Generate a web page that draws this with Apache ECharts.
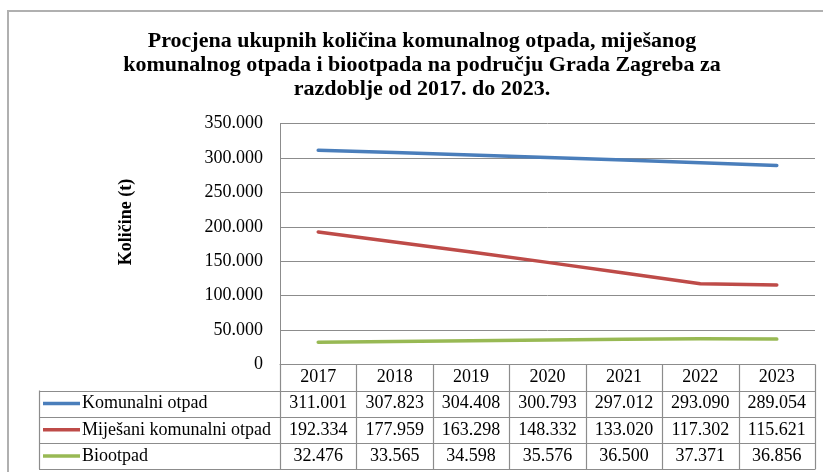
<!DOCTYPE html>
<html>
<head>
<meta charset="utf-8">
<script src="https://cdn.jsdelivr.net/npm/echarts@6/dist/echarts.min.js"></script>
<style>
html,body{margin:0;padding:0;background:#fff;}
#c{width:823px;height:472px;}
</style>
</head>
<body>
<div id="c"></div>
<script>
// ---- data ----
var years = ['2017','2018','2019','2020','2021','2022','2023'];
var seriesNames = ['Komunalni otpad','Miješani komunalni otpad','Biootpad'];
var komunalni = [311001,307823,304408,300793,297012,293090,289054];
var mijesani = [192334,177959,163298,148332,133020,117302,115621];
var biootpad = [32476,33565,34598,35576,36500,37371,36856];
var yMin = 0, yMax = 350000, yStep = 50000;
var titleText = 'Procjena ukupnih količina komunalnog otpada, miješanog\nkomunalnog otpada i biootpada na području Grada Zagreba za\nrazdoblje od 2017. do 2023.';
var yName = 'Količine (t)';

// ---- styles ----
var colors = ['#4a7ebb','#be4b48','#98b954'];
var FONT = '"Liberation Serif","Times New Roman",serif';
var gridColor = '#8c8c8c';
var tableColor = '#8c8c8c';
var FS = 18;

function fmt(v){ return String(v).replace(/\B(?=(\d{3})+(?!\d))/g,'.'); }

var chart = echarts.init(document.getElementById('c'), null, {renderer:'canvas'});
var allData = [komunalni, mijesani, biootpad];

chart.setOption({
  animation:false,
  backgroundColor:'#fff',
  title:{
    text:titleText,
    left:417, top:24, textAlign:'center',
    textStyle:{fontFamily:FONT,fontWeight:'bold',fontSize:22,lineHeight:24,color:'#000'}
  },
  grid:{left:280, top:123.5, right:8, bottom:107.5, containLabel:false},
  xAxis:{
    type:'category', data:years, boundaryGap:true,
    axisLine:{show:true,lineStyle:{color:tableColor,width:1}},
    axisTick:{show:false},
    axisLabel:{fontFamily:FONT,fontSize:FS,color:'#000',margin:4,interval:0},
    splitLine:{show:false}
  },
  yAxis:{
    type:'value', min:yMin, max:yMax, interval:yStep,
    axisLine:{show:true,lineStyle:{color:gridColor,width:1}},
    axisTick:{show:false},
    axisLabel:{fontFamily:FONT,fontSize:FS,color:'#000',margin:17,formatter:function(v){return fmt(v);}},
    splitLine:{show:true,lineStyle:{color:gridColor,width:1}}
  },
  series: seriesNames.map(function(n,i){
    return {name:n,type:'line',data:allData[i],showSymbol:false,symbol:'none',
      lineStyle:{color:colors[i],width:3.5,cap:'round',join:'round'},
      itemStyle:{color:colors[i]}, z:3};
  })
});

// ---- data table & decorations ----
var centers = years.map(function(y,i){ return chart.convertToPixel({xAxisIndex:0}, i); });
var bw = centers.length>1 ? centers[1]-centers[0] : 76;
var gridRight = centers[centers.length-1] + bw/2;
var gridLeft = centers[0] - bw/2;
var plotBottom = chart.convertToPixel({yAxisIndex:0}, yMin);
var headerH = 26, rowH = 26.2;
var tableLeft = 39;
var tableTop = plotBottom + headerH;
var tableBottom = tableTop + rowH*seriesNames.length;

var g = [];
// outer border
g.push({type:'rect',shape:{x:8,y:11,width:830,height:480},style:{fill:null,stroke:'#b0b0b0',lineWidth:2},silent:true});
// y-axis name
g.push({type:'text',x:126,y:222,rotation:Math.PI/2,style:{text:yName,fontFamily:FONT,fontWeight:'bold',fontSize:18,fill:'#000',align:'center',verticalAlign:'middle'}});
// column boundaries in header + body
for (var i=0;i<=years.length;i++){
  var x = Math.round(gridLeft + bw*i)+0.5;
  g.push({type:'line',shape:{x1:x,y1:plotBottom,x2:x,y2:tableBottom},style:{stroke:tableColor,lineWidth:1.2}});
}
// legend column left border
g.push({type:'line',shape:{x1:tableLeft+0.5,y1:tableTop,x2:tableLeft+0.5,y2:tableBottom},style:{stroke:tableColor,lineWidth:1.2}});
// horizontal lines
for (var r=0;r<=seriesNames.length;r++){
  var y = Math.round(tableTop + rowH*r)+0.5;
  g.push({type:'line',shape:{x1:tableLeft,y1:y,x2:gridRight+0.5,y2:y},style:{stroke:tableColor,lineWidth:1.2}});
}
// rows
seriesNames.forEach(function(n,r){
  var cy = tableTop + rowH*r + rowH/2;
  g.push({type:'line',shape:{x1:43,y1:cy,x2:80,y2:cy},style:{stroke:colors[r],lineWidth:3.5}});
  g.push({type:'text',x:82,y:cy,style:{text:n,fontFamily:FONT,fontSize:FS,fill:'#000',align:'left',verticalAlign:'middle'}});
  allData[r].forEach(function(v,i){
    g.push({type:'text',x:centers[i],y:cy,style:{text:fmt(v),fontFamily:FONT,fontSize:FS,fill:'#000',align:'center',verticalAlign:'middle'}});
  });
});
chart.setOption({graphic:{elements:g}});
</script>
</body>
</html>
